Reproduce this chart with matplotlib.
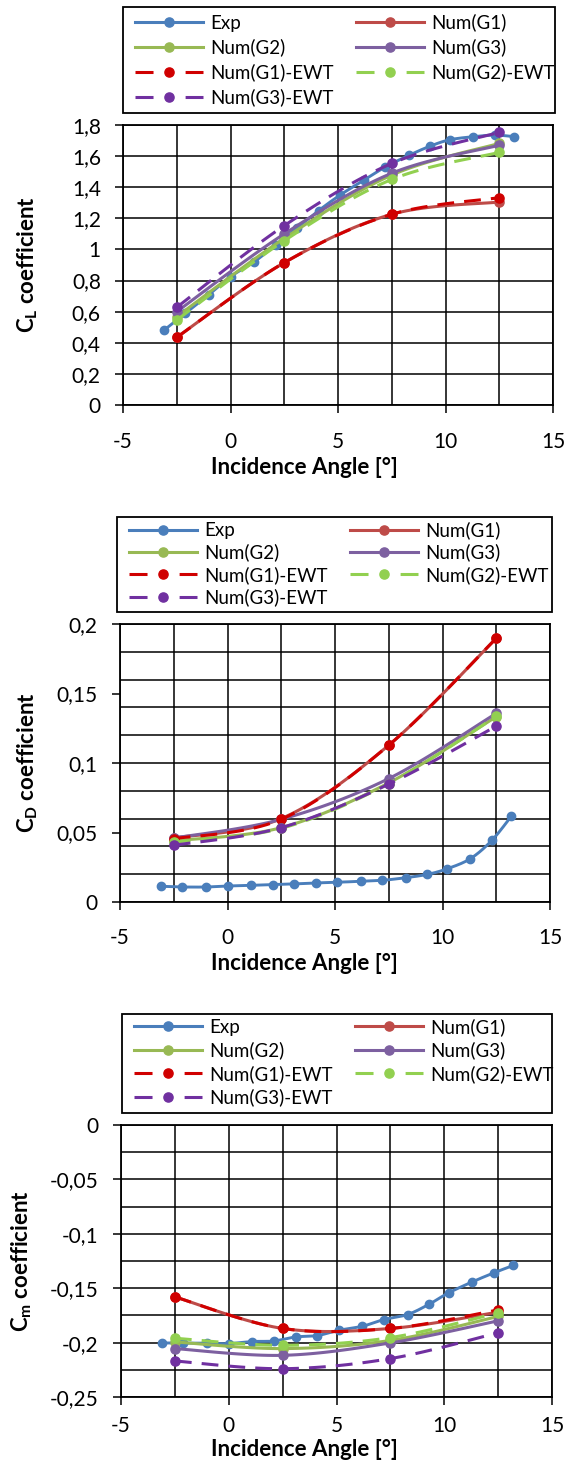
import numpy as np
import matplotlib
matplotlib.use("Agg")
import matplotlib.pyplot as plt
from matplotlib.lines import Line2D
from matplotlib.patches import Rectangle
from matplotlib.ticker import MultipleLocator, FuncFormatter

plt.rcParams['font.family'] = ['Lato', 'DejaVu Sans']
plt.rcParams['mathtext.fontset'] = 'custom'
plt.rcParams['mathtext.rm'] = 'Lato'
plt.rcParams['mathtext.bf'] = 'Lato:bold'

# ---------------- data ----------------
alpha_exp = [-3.1, -2.1, -1.0, 0.0, 1.1, 2.1, 3.1, 4.1, 5.1, 6.2, 7.2, 8.3, 9.3, 10.2, 11.3, 12.3, 13.2]
cl_exp = [0.48, 0.59, 0.71, 0.825, 0.92, 1.03, 1.14, 1.25, 1.35, 1.445, 1.53, 1.605, 1.665, 1.705, 1.725, 1.735, 1.725]
cd_exp = [0.0113, 0.0108, 0.0108, 0.0115, 0.012, 0.0125, 0.013, 0.0137, 0.0142, 0.0149, 0.0156, 0.0175,
          0.0199, 0.0238, 0.0312, 0.0444, 0.0617]
cm_exp = [-0.2003, -0.2005, -0.2005, -0.2009, -0.199, -0.1985, -0.1948, -0.1936, -0.1887, -0.185, -0.1788,
          -0.1742, -0.1647, -0.1543, -0.1442, -0.1359, -0.1291]

alpha_num = [-2.5, 2.5, 7.5, 12.5]
cl_g1 = [0.435, 0.915, 1.226, 1.305]
cl_g2 = [0.568, 1.071, 1.478, 1.682]
cl_g3 = [0.600, 1.100, 1.490, 1.670]
cl_g1e = [0.435, 0.915, 1.226, 1.333]
cl_g2e = [0.546, 1.056, 1.450, 1.624]
cl_g3e = [0.628, 1.153, 1.553, 1.753]

cd_g1 = [0.0461, 0.0600, 0.1128, 0.1897]
cd_g2 = [0.0440, 0.0535, 0.0857, 0.1333]
cd_g3 = [0.0460, 0.0595, 0.0888, 0.1357]
cd_g1e = [0.0455, 0.0595, 0.1128, 0.1897]
cd_g2e = [0.0430, 0.0530, 0.0852, 0.1335]
cd_g3e = [0.0408, 0.0535, 0.0848, 0.1265]

cm_g1 = [-0.158, -0.187, -0.187, -0.172]
cm_g2 = [-0.1994, -0.2055, -0.198, -0.176]
cm_g3 = [-0.2055, -0.2117, -0.2003, -0.180]
cm_g1e = [-0.158, -0.187, -0.187, -0.170]
cm_g2e = [-0.196, -0.2025, -0.1954, -0.1727]
cm_g3e = [-0.2169, -0.224, -0.2147, -0.191]

labels = ['Exp', 'Num(G1)', 'Num(G2)', 'Num(G3)', 'Num(G1)-EWT', 'Num(G2)-EWT', 'Num(G3)-EWT']
colors = ['#4A7EBB', '#BE4B48', '#98B954', '#7D60A0', '#D00000', '#92D050', '#7030A0']
dashed = [False, False, False, False, True, True, True]

ylabels = [r'$\mathbf{C_{L}}$ coefficient', r'$\mathbf{C_{D}}$ coefficient', r'$\mathbf{C_{m}}$ coefficient']
xlabel = 'Incidence Angle [°]'

# ---------------- helpers ----------------
def smooth(x, y, n=24):
    """Excel-like smoothed line (Catmull-Rom Bezier) through the given points."""
    x = np.asarray(x, float); y = np.asarray(y, float)
    px = np.concatenate([[x[0]], x, [x[-1]]])
    py = np.concatenate([[y[0]], y, [y[-1]]])
    xs, ys = [], []
    t = np.linspace(0, 1, n)
    for i in range(1, len(px) - 2):
        p0x, p1x, p2x, p3x = px[i-1:i+3]
        p0y, p1y, p2y, p3y = py[i-1:i+3]
        c1x, c1y = p1x + (p2x - p0x) / 6, p1y + (p2y - p0y) / 6
        c2x, c2y = p2x - (p3x - p1x) / 6, p2y - (p3y - p1y) / 6
        bx = (1-t)**3*p1x + 3*(1-t)**2*t*c1x + 3*(1-t)*t**2*c2x + t**3*p2x
        by = (1-t)**3*p1y + 3*(1-t)**2*t*c1y + 3*(1-t)*t**2*c2y + t**3*p2y
        xs.append(bx); ys.append(by)
    return np.concatenate(xs), np.concatenate(ys)

def fmt(v, pos):
    v = round(v, 4)
    if abs(v) < 1e-9:
        return '0'
    return ('%g' % v).replace('.', ',')

W, H = 576, 1467
fig = plt.figure(figsize=(W/100, H/100), dpi=100)

panels = [
    dict(rect=(123, 125, 553, 405), ylim=(0, 1.8), ymaj=0.2, ymin=0.2,
         exp=cl_exp, num=[cl_g1, cl_g2, cl_g3, cl_g1e, cl_g2e, cl_g3e],
         leg=(122.7, 7, 555, 113), leg_top=13.7, leg_sp=0.37,
         ylab_x=28, tpad=13.5, xlab_off=63),
    dict(rect=(120, 624, 550, 902), ylim=(0, 0.2), ymaj=0.05, ymin=0.02,
         exp=cd_exp, num=[cd_g1, cd_g2, cd_g3, cd_g1e, cd_g2e, cd_g3e],
         leg=(117, 516.7, 551.7, 611.7), leg_top=521.5, leg_sp=0.23,
         ylab_x=28, tpad=13.0, xlab_off=61),
    dict(rect=(121, 1125, 552, 1397), ylim=(-0.25, 0), ymaj=0.05, ymin=0.025,
         exp=cm_exp, num=[cm_g1, cm_g2, cm_g3, cm_g1e, cm_g2e, cm_g3e],
         leg=(121.7, 1014, 551.7, 1113), leg_top=1018, leg_sp=0.30,
         ylab_x=22, tpad=8.0, xlab_off=52),
]

lw = 2.2
fs_leg = 13.5
for k, p in enumerate(panels):
    l, t, r, b = p['rect']
    ax = fig.add_axes([l/W, 1 - b/H, (r-l)/W, (b-t)/H])
    ax.set_xlim(-5, 15)
    ax.set_ylim(*p['ylim'])
    ax.xaxis.set_major_locator(MultipleLocator(5))
    ax.xaxis.set_minor_locator(MultipleLocator(2.5))
    ax.yaxis.set_major_locator(MultipleLocator(p['ymaj']))
    ax.yaxis.set_minor_locator(MultipleLocator(p['ymin']))
    ax.xaxis.remove_overlapping_locs = False
    ax.yaxis.remove_overlapping_locs = False
    ax.yaxis.set_major_formatter(FuncFormatter(fmt))
    ax.xaxis.set_major_formatter(FuncFormatter(fmt))
    ax.grid(False, which='major')
    ax.grid(True, which='minor', color='black', linewidth=1.1)
    ax.set_axisbelow(True)
    ax.tick_params(which='major', direction='out', length=6, width=1.1, labelsize=15, pad=10,
                   top=False, right=False, colors='black')
    ax.tick_params(axis='x', which='major', pad=p['tpad'])
    ax.tick_params(which='minor', length=0)
    for s in ax.spines.values():
        s.set_linewidth(1.3)
        s.set_color('black')

    series_x = [alpha_exp] + [alpha_num]*6
    series_y = [p['exp']] + p['num']
    for i in range(7):
        sx, sy = smooth(series_x[i], series_y[i])
        lwi = 2.1 if i == 0 else lw
        if dashed[i]:
            ax.plot(sx, sy, color=colors[i], lw=lwi, dashes=(5.5, 3.3), zorder=3+i, solid_capstyle='butt')
        else:
            ax.plot(sx, sy, color=colors[i], lw=lwi, zorder=3+i, solid_capstyle='round')
        ax.plot(series_x[i], series_y[i], linestyle='none', marker='o', ms=6.6 if i else 6.0,
                color=colors[i], mec=colors[i], zorder=3+i, clip_on=False)

    ax.set_xlabel(xlabel, fontsize=16, fontweight='bold', va='center')
    ax.xaxis.set_label_coords((304 - l)/(r - l), -p['xlab_off']/(b - t))
    ax.set_ylabel(ylabels[k], fontsize=16, fontweight='bold', va='center')
    ax.yaxis.set_label_coords((p['ylab_x'] - l)/(r - l), 0.5)

    # legend
    handles = []
    for i in range(7):
        if dashed[i]:
            h = Line2D([], [], color=colors[i], lw=lw, dashes=(5.9, 10.5), marker='o', ms=6.6,
                       mec=colors[i])
        else:
            h = Line2D([], [], color=colors[i], lw=lw, marker='o', ms=6.6, mec=colors[i])
        handles.append(h)
    order = [0, 2, 4, 6, 1, 3, 5]
    lx0, ly0, lx1, ly1 = p['leg']
    fig.add_artist(Rectangle((lx0/W, 1 - ly1/H), (lx1-lx0)/W, (ly1-ly0)/H, transform=fig.transFigure,
                             facecolor='white', edgecolor='black', linewidth=1.3, zorder=1))
    leg = fig.legend([handles[i] for i in order], [labels[i] for i in order], ncol=2,
                     loc='upper left', bbox_to_anchor=((lx0 + 12.3)/W, 1 - p['leg_top']/H),
                     borderaxespad=0, borderpad=0, fontsize=fs_leg, frameon=False,
                     handlelength=3.63, handletextpad=0.37, labelspacing=p['leg_sp'],
                     columnspacing=1.2)
    leg.set_zorder(2)

fig.savefig('out.png', dpi=100)
